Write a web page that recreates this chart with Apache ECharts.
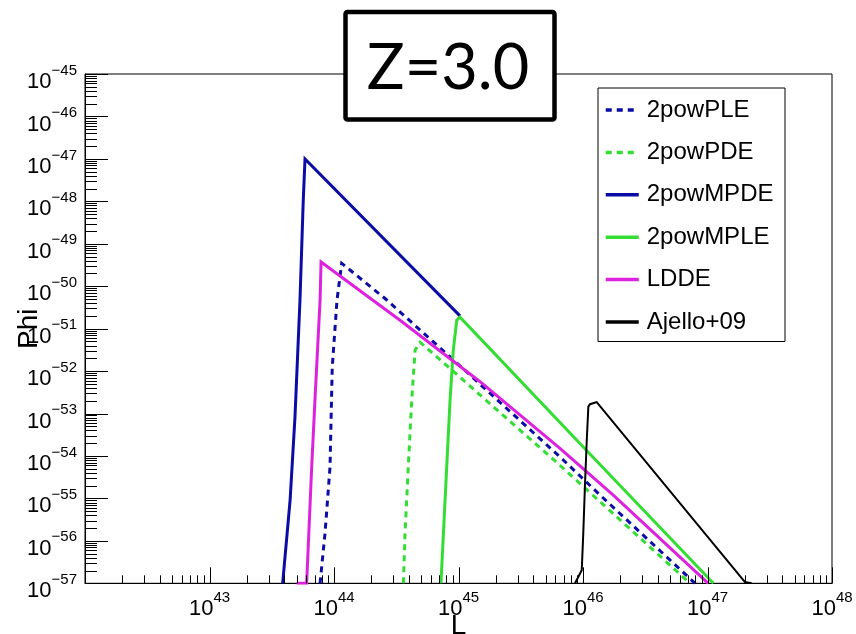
<!DOCTYPE html>
<html>
<head>
<meta charset="utf-8">
<script src="https://cdn.jsdelivr.net/npm/echarts@6/dist/echarts.min.js"></script>
<style>
  html, body { margin: 0; padding: 0; background: #ffffff; }
  #chart { width: 856px; height: 634px; }
</style>
</head>
<body>
<div id="chart"></div>
<script>
// Luminosity function Phi(L) at z = 3.0 for several evolution models

// axis ranges
const L_MIN = 1e42, L_MAX = 1e48;
const PHI_MIN = 1e-57, PHI_MAX = 1e-45;

// decade labels (exponents of ten)
const xLabelExps = [43, 44, 45, 46, 47, 48];
const yLabelExps = [-45, -46, -47, -48, -49, -50, -51, -52, -53, -54, -55, -56, -57];
const tickMantissas = [1, 2, 3, 4, 5, 6, 7, 8, 9];

// 2powPLE
const pleL      = [7.73e43, 8.47e43, 9.29e43, 9.68e43, 1.057e44, 1.153e44, 2.57e44, 8.81e44, 6.75e45, 1.371e46, 7.94e46];
const plePhi    = [1e-57, 1.51e-56, 5.50e-55, 1.23e-52, 4.68e-51, 3.47e-50, 5.13e-51, 2.0e-52, 8.71e-55, 1.20e-55, 1e-57];
// 2powPDE
const pdeL      = [3.61e44, 3.72e44, 3.95e44, 4.21e44, 4.48e44, 4.91e44, 8.55e44, 6.53e45, 7.23e46];
const pdePhi    = [1e-57, 1.48e-56, 5.50e-55, 2.04e-53, 3.09e-52, 4.79e-52, 1.15e-52, 6.03e-55, 1e-57];
// 2powMPDE
const mpdeL     = [3.87e43, 4.44e43, 4.86e43, 5.33e43, 5.66e43, 5.85e43, 1.028e45];
const mpdePhi   = [1e-57, 9.12e-56, 8.32e-54, 4.68e-51, 1.0e-48, 1.0e-47, 2.0e-51];
// 2powMPLE
const mpleL     = [7.23e44, 7.80e44, 8.55e44, 9.08e44, 9.68e44, 1.028e45, 1.005e46, 1.114e47];
const mplePhi   = [1e-57, 9.12e-56, 2.04e-53, 3.09e-52, 1.58e-51, 1.86e-51, 1.62e-54, 1e-57];
// LDDE
const lddeL     = [5.01e43, 6.03e43, 6.62e43, 7.03e43, 7.73e43, 7.87e43, 3.39e44, 1.49e45, 6.53e45, 1.75e46, 1.014e47];
const lddePhi   = [1e-57, 1e-57, 5.50e-55, 2.04e-53, 4.68e-51, 3.72e-50, 1.58e-51, 5.62e-53, 1.51e-54, 1.20e-55, 1e-57];
// Ajello+09
const ajelloL   = [8.63e45, 9.16e45, 9.77e45, 1.005e46, 1.038e46, 1.072e46, 1.104e46, 1.138e46, 1.288e46, 2.0e47, 2.26e47];
const ajelloPhi = [1e-57, 1.41e-57, 2.04e-57, 1.48e-56, 2.24e-55, 2.34e-54, 1.45e-53, 1.66e-53, 1.86e-53, 1.07e-57, 1e-57];

const FONT = '"Liberation Sans", Arial, Helvetica, sans-serif';
const BLUE = '#0b0ba6', GREEN = '#33dd33', MAGENTA = '#dd22dd';

function pairs(xs, ys) { return xs.map((x, i) => [x, ys[i]]); }

function curve(name, xs, ys, color, width, dashed) {
  return {
    name: name,
    type: 'line',
    data: pairs(xs, ys),
    symbol: 'none',
    showSymbol: false,
    silent: true,
    clip: true,
    z: 3,
    lineStyle: { color: color, width: width, type: dashed ? [6, 5] : 'solid', cap: 'butt', join: 'miter' },
    itemStyle: { color: color }
  };
}

// tick positions: every mantissa of every decade
const xTicks = [];
for (let e = 42; e <= 48; e++) {
  for (const m of tickMantissas) {
    if (e === 48 && m > 1) break;
    xTicks.push([m * Math.pow(10, e), PHI_MIN, m === 1 ? 1 : 0]);
  }
}
const yTicks = [];
for (let e = -57; e <= -45; e++) {
  for (const m of tickMantissas) {
    if (e === -45 && m > 1) break;
    yTicks.push([L_MIN, m * Math.pow(10, e), m === 1 ? 1 : 0]);
  }
}

const richPow = {
  b: { fontSize: 22, fontFamily: FONT, color: '#000', lineHeight: 30, verticalAlign: 'bottom' },
  s: { fontSize: 15, fontFamily: FONT, color: '#000', lineHeight: 14, verticalAlign: 'top' }
};
function powText(exp) {
  return '{b|10}{s|' + String(exp).replace('-', '\u2212') + '}';
}

const chart = echarts.init(document.getElementById('chart'), null, { renderer: 'canvas' });

chart.setOption({
  animation: false,
  backgroundColor: '#ffffff',
  grid: {
    left: 85, top: 74, width: 747, height: 509.3,
    outerBoundsMode: 'none', containLabel: false,
    show: true, borderColor: '#000', borderWidth: 1, backgroundColor: 'transparent'
  },
  xAxis: {
    type: 'log', logBase: 10, min: L_MIN, max: L_MAX,
    axisLine: { show: true, onZero: false, lineStyle: { color: '#000', width: 1 } },
    axisTick: { show: false }, axisLabel: { show: false }, splitLine: { show: false },
    name: 'L', nameLocation: 'middle', nameGap: 29,
    nameTextStyle: { fontSize: 28, color: '#000', fontFamily: FONT }
  },
  yAxis: {
    type: 'log', logBase: 10, min: PHI_MIN, max: PHI_MAX,
    axisLine: { show: true, onZero: false, lineStyle: { color: '#000', width: 1 } },
    axisTick: { show: false }, axisLabel: { show: false }, splitLine: { show: false },
    name: 'Phi', nameLocation: 'middle', nameGap: 42, nameRotate: 90,
    nameTextStyle: { fontSize: 28, color: '#000', fontFamily: FONT }
  },
  legend: {
    show: true, orient: 'vertical', left: 604, top: 98, padding: 0,
    itemWidth: 33, itemHeight: 24, itemGap: 18.4, selectedMode: false,
    data: ['2powPLE', '2powPDE', '2powMPDE', '2powMPLE', 'LDDE', 'Ajello+09'],
    itemStyle: { opacity: 0 },
    lineStyle: { width: 3.5 },
    textStyle: { fontSize: 24, fontFamily: FONT, color: '#000', padding: [0, 0, 0, 3] },
    z: 20
  },
  graphic: [
    { type: 'rect', z: 15, shape: { x: 598, y: 88, width: 187, height: 253.5 },
      style: { fill: '#fff', stroke: '#000', lineWidth: 1 } },
    { type: 'rect', z: 30, shape: { x: 345.5, y: 12, width: 209, height: 107.5, r: 2 },
      style: { fill: '#fff', stroke: '#000', lineWidth: 4.5 } },
    { type: 'text', z: 31, x: 448, y: 69,
      style: { text: 'Z=3.0', fontSize: 63, fontFamily: 'Lato, "Open Sans", sans-serif', fill: '#000', align: 'center', verticalAlign: 'middle' } }
  ],
  series: [
    curve('2powPLE', pleL, plePhi, BLUE, 3, true),
    curve('2powPDE', pdeL, pdePhi, GREEN, 3, true),
    curve('2powMPDE', mpdeL, mpdePhi, BLUE, 3, false),
    curve('2powMPLE', mpleL, mplePhi, GREEN, 3, false),
    curve('LDDE', lddeL, lddePhi, MAGENTA, 3, false),
    curve('Ajello+09', ajelloL, ajelloPhi, '#000', 2, false),
    {
      // x-axis ticks, pointing into the frame
      type: 'custom', silent: true, clip: false, z: 5, data: xTicks,
      renderItem: function (params, api) {
        const cs = params.coordSys;
        const x = Math.round(api.coord([api.value(0), PHI_MIN])[0]) + 0.5;
        const y = cs.y + cs.height;
        const len = api.value(2) ? 16 : 8;
        return { type: 'line', shape: { x1: x, y1: y, x2: x, y2: y - len }, style: { stroke: '#000', lineWidth: 1 } };
      }
    },
    {
      // y-axis ticks, pointing into the frame
      type: 'custom', silent: true, clip: false, z: 5, data: yTicks,
      renderItem: function (params, api) {
        const cs = params.coordSys;
        const y = Math.round(api.coord([L_MIN, api.value(1)])[1]) + 0.5;
        const x = cs.x;
        const len = api.value(2) ? 23 : 12;
        return { type: 'line', shape: { x1: x, y1: y, x2: x + len, y2: y }, style: { stroke: '#000', lineWidth: 1 } };
      }
    },
    {
      // x-axis decade labels
      type: 'custom', silent: true, clip: false, z: 5,
      data: xLabelExps.map(e => [Math.pow(10, e), PHI_MIN, e]),
      renderItem: function (params, api) {
        const cs = params.coordSys;
        const x = api.coord([api.value(0), PHI_MIN])[0];
        return { type: 'text', x: x, y: cs.y + cs.height + 7,
          style: { text: powText(api.value(2)), rich: richPow, align: 'center', verticalAlign: 'top' } };
      }
    },
    {
      // y-axis decade labels
      type: 'custom', silent: true, clip: false, z: 5,
      data: yLabelExps.map(e => [L_MIN, Math.pow(10, e), e]),
      renderItem: function (params, api) {
        const cs = params.coordSys;
        const y = api.coord([L_MIN, api.value(1)])[1];
        return { type: 'text', x: cs.x - 8, y: y - 11,
          style: { text: powText(api.value(2)), rich: richPow, align: 'right', verticalAlign: 'top' } };
      }
    }
  ]
});
</script>
</body>
</html>
